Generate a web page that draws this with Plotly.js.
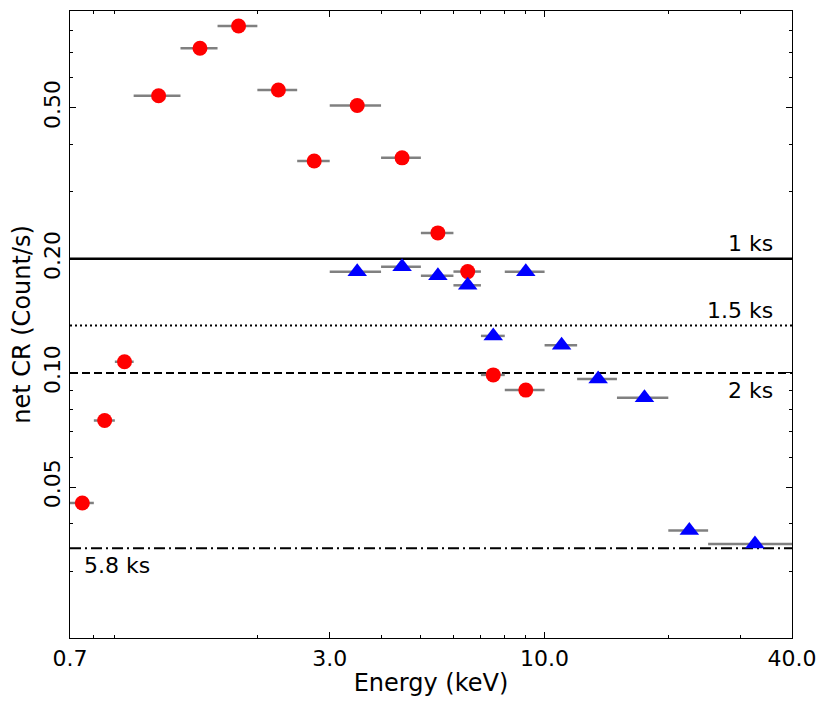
<!DOCTYPE html>
<html>
<head>
<meta charset="utf-8">
<script src="https://cdn.plot.ly/plotly-3.0.1.min.js"></script>
<style>
  body { margin: 0; background: #fff; }
  #plot-container { width: 831px; height: 709px; }
</style>
</head>
<body>
<div id="plot-container"></div>
<script>
// energy bins (keV) and net count rates
const redLo = [0.7, 0.8, 0.9, 1.0, 1.3, 1.6, 2.0, 2.5, 3.0, 4.0, 5.0, 6.0, 7.0, 8.0];
const redHi = [0.8, 0.9, 1.0, 1.3, 1.6, 2.0, 2.5, 3.0, 4.0, 5.0, 6.0, 7.0, 8.0, 10.0];
const redRate = [0.0454, 0.0749, 0.107, 0.538, 0.718, 0.822, 0.557, 0.362, 0.507, 0.369, 0.234, 0.185, 0.0988, 0.0901];

const blueLo = [3.0, 4.0, 5.0, 6.0, 7.0, 8.0, 10.0, 12.0, 15.0, 20.0, 25.0];
const blueHi = [4.0, 5.0, 6.0, 7.0, 8.0, 10.0, 12.0, 15.0, 20.0, 25.0, 40.0];
const blueRate = [0.1848, 0.1905, 0.1803, 0.1702, 0.1252, 0.1848, 0.1182, 0.0963, 0.0860, 0.0384, 0.0354];

// exposure levels
const levelLabels = ['1 ks', '1.5 ks', '2 ks', '5.8 ks'];
const levelRates = [0.2, 0.1333, 0.1, 0.0345];
const levelDash = ['solid', '2px,3px', '8px,4px', '11px,4px,2px,4px'];

const xTickVals = [0.7, 3, 10, 40];
const xTickText = ['0.7', '3.0', '10.0', '40.0'];
const xMinor = [0.8, 0.9, 2, 4, 5, 6, 7, 8, 9, 20, 30];
const yTickVals = [0.05, 0.1, 0.2, 0.5];
const yTickText = ['0.05', '0.10', '0.20', '0.50'];
const yMinor = [0.03, 0.04, 0.06, 0.07, 0.08, 0.09, 0.3, 0.4, 0.6, 0.7, 0.8];

const FONT = 'DejaVu Sans, sans-serif';

function binTrace(lo, hi, rate, symbol, color, size) {
    const mid = lo.map((l, i) => (l + hi[i]) / 2);
    return {
        x: mid,
        y: rate,
        type: 'scatter',
        mode: 'markers',
        marker: { symbol: symbol, color: color, size: size, line: { width: 0 } },
        error_x: {
            type: 'data',
            symmetric: false,
            array: hi.map((h, i) => h - mid[i]),
            arrayminus: lo.map((l, i) => mid[i] - l),
            color: '#808080',
            thickness: 2.5,
            width: 0
        },
        hoverinfo: 'x+y'
    };
}

document.addEventListener("DOMContentLoaded", function() {
    let traces = [];

    levelRates.forEach((r, i) => {
        traces.push({
            x: [0.7, 40],
            y: [r, r],
            type: 'scatter',
            mode: 'lines',
            line: { color: 'black', width: i === 0 ? 2.5 : 2, dash: levelDash[i] },
            hoverinfo: 'skip'
        });
    });

    traces.push(binTrace(redLo, redHi, redRate, 'circle', '#ff0000', 15));
    traces.push(binTrace(blueLo, blueHi, blueRate, 'triangle-up', '#0000ff', 17));

    // label placement around each line
    const annots = levelLabels.map((t, i) => {
        const below = i >= 2;
        const left = i === 3;
        return {
            text: t,
            xref: 'paper',
            x: left ? 0.016 : 0.976,
            xanchor: left ? 'left' : 'right',
            yref: 'y',
            y: Math.log10(levelRates[i]),
            yanchor: below ? 'top' : 'bottom',
            yshift: below ? -3 : 1,
            showarrow: false,
            font: { family: FONT, size: 22, color: 'black' }
        };
    });

    const axisCommon = {
        type: 'log',
        showgrid: false,
        zeroline: false,
        showline: true,
        linecolor: 'black',
        linewidth: 1.3,
        mirror: 'allticks',
        ticks: 'inside',
        ticklen: 6,
        tickwidth: 1.2,
        tickcolor: 'black',
        tickmode: 'array',
        tickfont: { family: FONT, size: 22, color: 'black' }
    };

    const layout = {
        autosize: false,
        width: 831,
        height: 709,
        showlegend: false,
        paper_bgcolor: 'white',
        plot_bgcolor: 'white',
        margin: { l: 70, r: 39, t: 11, b: 71 },
        font: { family: FONT, color: 'black' },
        xaxis: Object.assign({}, axisCommon, {
            range: [Math.log10(0.7), Math.log10(40)],
            tickvals: xTickVals,
            ticktext: xTickText,
            minor: { tickmode: 'array', tickvals: xMinor, ticks: 'inside', ticklen: 3, tickcolor: 'black', tickwidth: 1 },
            title: { text: 'Energy (keV)', font: { family: FONT, size: 24 }, standoff: 4 }
        }),
        yaxis: Object.assign({}, axisCommon, {
            range: [Math.log10(0.02), Math.log10(0.9)],
            tickvals: yTickVals,
            ticktext: yTickText,
            tickangle: -90,
            minor: { tickmode: 'array', tickvals: yMinor, ticks: 'inside', ticklen: 3, tickcolor: 'black', tickwidth: 1 },
            title: { text: 'net CR (Count/s)', font: { family: FONT, size: 24 }, standoff: 2 }
        }),
        annotations: annots
    };

    Plotly.newPlot('plot-container', traces, layout, { displayModeBar: false });
});
</script>
</body>
</html>
